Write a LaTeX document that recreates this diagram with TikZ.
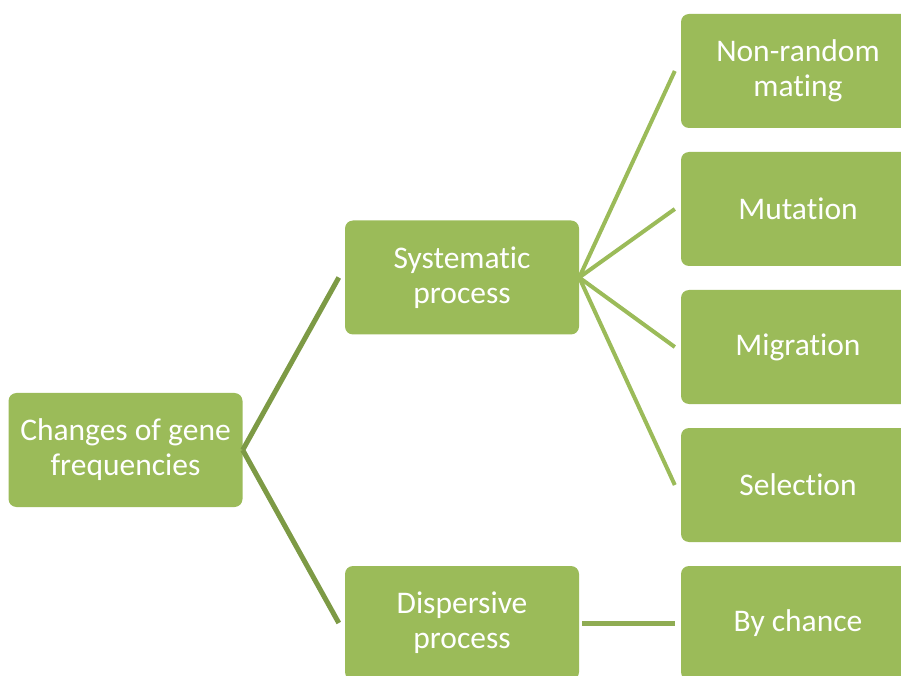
\documentclass[tikz,border=0pt]{standalone}
\usepackage{fontspec}
\setmainfont{Carlito}[Ligatures=NoCommon]
\definecolor{boxgreen}{HTML}{9BBB59}
\definecolor{darkline}{HTML}{7D9A45}
\definecolor{midline}{HTML}{8FAC53}
\begin{document}
\begin{tikzpicture}[x=1pt,y=1pt,
    box/.style={fill=boxgreen,rounded corners=8pt,minimum width=234pt,minimum height=114pt,
      text=white,align=center,inner sep=0pt,font=\fontsize{31.5}{35}\selectfont},
    link/.style={line width=5pt,darkline},
    sublink/.style={line width=4pt,boxgreen}]
        \clip (0,0) rectangle (901,675);

{\node[box] (genefreq) at (125.5,225) {Changes of gene\\frequencies};}

{\node[box] (systematic) at (462,397.5) {Systematic\\process};}
{\node[box] (dispersive) at (462,52) {Dispersive\\process};}

{\node[box] (nonrandom) at (798,604) {Non-random\\mating};}
{\node[box] (mutation) at (798,466) {Mutation};}
{\node[box] (migration) at (798,328) {Migration};}
{\node[box] (selection) at (798,190) {Selection};}
{\node[box] (bychance) at (798,52) {By chance};}

        \draw[link] (genefreq.east) -- ([xshift=-6pt]systematic.west);
        \draw[link] (genefreq.east) -- ([xshift=-6pt]dispersive.west);
        \foreach \n in {nonrandom,mutation,migration,selection}
          {\draw[sublink] (systematic.east) -- ([xshift=-6pt]\n.west);}
        \draw[link,midline] ([xshift=3pt]dispersive.east) -- ([xshift=-6pt]bychance.west);
\end{tikzpicture}
\end{document}
